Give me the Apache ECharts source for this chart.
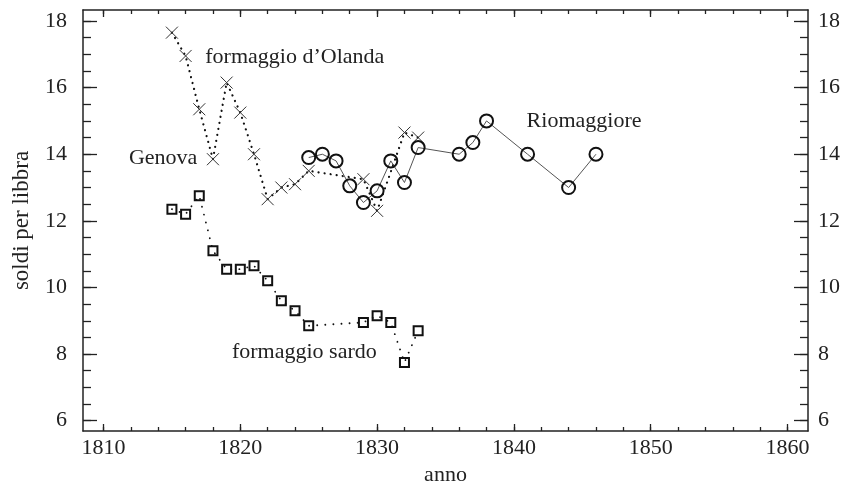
<!DOCTYPE html>
<html><head><meta charset="utf-8">
<script src="https://cdn.jsdelivr.net/npm/echarts@6/dist/echarts.min.js"></script>
<style>html,body{margin:0;padding:0;background:#fff}#c{width:844px;height:493px}</style>
</head><body><div id="c"></div>
<script>
// formaggio d'Olanda, Genova
const olandaYears  = [1815,1816,1817,1818,1819,1820,1821,1822,1823,1824,1825,1829,1830,1832,1833];
const olandaPrices = [17.65,16.95,15.35,13.85,16.15,15.25,14.0,12.65,13.0,13.1,13.5,13.25,12.3,14.65,14.5];
// formaggio sardo
const sardoYears  = [1815,1816,1817,1818,1819,1820,1821,1822,1823,1824,1825,1829,1830,1831,1832,1833];
const sardoPrices = [12.35,12.2,12.75,11.1,10.55,10.55,10.65,10.2,9.6,9.3,8.85,8.95,9.15,8.95,7.75,8.7];
// Riomaggiore
const rioYears  = [1825,1826,1827,1828,1829,1830,1831,1832,1833,1836,1837,1838,1841,1844,1846];
const rioPrices = [13.9,14.0,13.8,13.05,12.55,12.9,13.8,13.15,14.2,14.0,14.35,15.0,14.0,13.0,14.0];

const xMajorTicks = [1810,1820,1830,1840,1850,1860];
const xMinorTicks = [1810,1812,1814,1816,1818,1820,1822,1824,1826,1828,1830,1832,1834,1836,1838,1840,1842,1844,1846,1848,1850,1852,1854,1856,1858,1860];
const yMajorTicks = [6,8,10,12,14,16,18];
const yMinorTicks = [6,6.5,7,7.5,8,8.5,9,9.5,10,10.5,11,11.5,12,12.5,13,13.5,14,14.5,15,15.5,16,16.5,17,17.5,18];

const annotations = [
  {text:'formaggio d\u2019Olanda', x:1817.44, y:16.92, align:'left'},
  {text:'Genova', x:1816.86, y:13.89, align:'right'},
  {text:'Riomaggiore', x:1840.93, y:15.0, align:'left'},
  {text:'formaggio sardo', x:1819.39, y:8.06, align:'left'}
];

const FONT = '"Liberation Serif", "DejaVu Serif", serif';
const INK = '#222';
const X_MIN = 1808.5, X_MAX = 1861.5, Y_MIN = 5.69, Y_MAX = 18.33;

function pairs(xs, ys){ return xs.map((x,i)=>[x, ys[i]]); }

function xAxis(pos, ticks, len, withLabels, withLine){
  return {
    type:'value', position:pos, min:X_MIN, max:X_MAX,
    axisLine:{show:withLine, onZero:false, lineStyle:{color:INK, width:1.5}},
    axisTick:{show:true, inside:true, length:len, customValues:ticks, lineStyle:{color:INK, width:1.3}},
    axisLabel:{show:withLabels, customValues:ticks, margin:6, fontFamily:FONT, fontSize:22, color:INK,
      formatter:(v)=>String(Math.round(v))},
    splitLine:{show:false},
    name: (withLabels && pos==='bottom') ? 'anno' : '',
    nameLocation:'middle', nameGap:29,
    nameTextStyle:{fontFamily:FONT, fontSize:22, color:INK}
  };
}
function yAxis(pos, ticks, len, withLabels, withLine){
  return {
    type:'value', position:pos, min:Y_MIN, max:Y_MAX,
    axisLine:{show:withLine, onZero:false, lineStyle:{color:INK, width:1.5}},
    axisTick:{show:true, inside:true, length:len, customValues:ticks, lineStyle:{color:INK, width:1.3}},
    axisLabel:{show:withLabels, customValues:ticks, margin: pos==='left'?16:10, fontFamily:FONT, fontSize:22, color:INK,
      formatter:(v)=>String(v)},
    splitLine:{show:false},
    name: (withLabels && pos==='left') ? 'soldi per libbra' : '',
    nameLocation:'middle', nameGap:50, nameRotate:90,
    nameTextStyle:{fontFamily:FONT, fontSize:23, color:INK}
  };
}

const crossPath = 'path://M0,0L10,10M10,0L0,10';

const chart = echarts.init(document.getElementById('c'), null, {renderer:'canvas'});
chart.setOption({
  animation:false,
  backgroundColor:'#fff',
  grid:{left:83, right:36, top:10, bottom:62, containLabel:false},
  xAxis:[
    xAxis('bottom', xMajorTicks, 7, true, true),
    xAxis('bottom', xMinorTicks, 4, false, false),
    xAxis('top', xMajorTicks, 7, false, true),
    xAxis('top', xMinorTicks, 4, false, false)
  ],
  yAxis:[
    yAxis('left', yMajorTicks, 14, true, true),
    yAxis('left', yMinorTicks, 8, false, false),
    yAxis('right', yMajorTicks, 14, true, true),
    yAxis('right', yMinorTicks, 8, false, false)
  ],
  series:[
    {
      name:'formaggio d\u2019Olanda', type:'line', xAxisIndex:0, yAxisIndex:0,
      data:pairs(olandaYears, olandaPrices),
      symbol:crossPath, symbolSize:12,
      itemStyle:{color:'transparent', borderColor:'#333', borderWidth:1},
      lineStyle:{color:'#111', width:2.2, type:[0.1,6], cap:'round'},
      z:2
    },
    {
      name:'formaggio sardo', type:'line', xAxisIndex:0, yAxisIndex:0,
      data:pairs(sardoYears, sardoPrices),
      symbol:'rect', symbolSize:9,
      itemStyle:{color:'transparent', borderColor:'#111', borderWidth:2},
      lineStyle:{color:'#111', width:1.8, type:[0.1,8], cap:'round'},
      z:3
    },
    {
      name:'Riomaggiore', type:'line', xAxisIndex:0, yAxisIndex:0,
      data:pairs(rioYears, rioPrices),
      symbol:'circle', symbolSize:13,
      itemStyle:{color:'transparent', borderColor:'#111', borderWidth:2},
      lineStyle:{color:'#555', width:1},
      z:4
    }
  ]
});

const graphics = annotations.map(a=>{
  const p = chart.convertToPixel({xAxisIndex:0, yAxisIndex:0}, [a.x, a.y]);
  return {type:'text', x:p[0], y:p[1], z:10,
    style:{text:a.text, fill:INK, font:'22px ' + FONT, align:a.align, verticalAlign:'middle'}};
});
chart.setOption({graphic:graphics});
</script>
</body></html>
